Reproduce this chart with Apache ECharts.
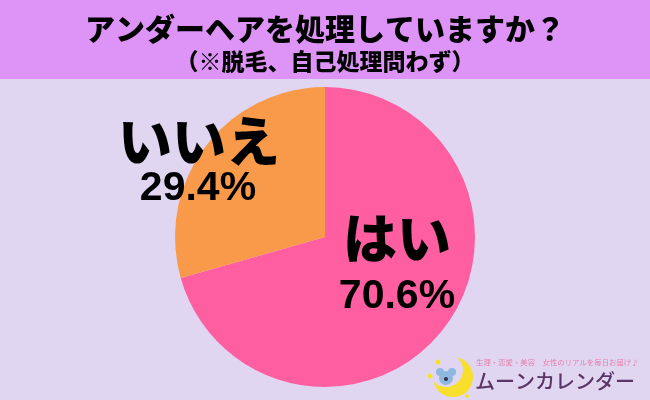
<!DOCTYPE html>
<html>
<head>
<meta charset="utf-8">
<script src="https://cdn.jsdelivr.net/npm/echarts@6/dist/echarts.min.js"></script>
<style>
html,body{margin:0;padding:0;background:#e1d6f1;}
#c{width:650px;height:400px;}
</style>
</head>
<body>
<div id="c"></div>
<script>
var titleText = 'アンダーヘアを処理していますか？';
var subtitleText = '（※脱毛、自己処理問わず）';
var categories = ['はい', 'いいえ'];
var values = [70.6, 29.4];
var colors = ['#ff5ea0', '#f99a4a'];
var brandTagline = '生理・恋愛・美容　女性のリアルを毎日お届け♪';
var brandName = 'ムーンカレンダー';

var chart = echarts.init(document.getElementById('c'), null, {renderer: 'canvas'});
var jp = '"Noto Sans CJK JP", "Noto Sans", sans-serif';
var num = '"Liberation Sans", Arial, sans-serif';

var labelPos = [
  {name: [397, 238], val: [397, 297]},
  {name: [199, 141], val: [198, 189]}
];
var labelGraphics = [];
categories.forEach(function (c, i) {
  labelGraphics.push({
    type: 'text', x: labelPos[i].name[0], y: labelPos[i].name[1], z: 10,
    style: {text: c, font: '900 54px ' + jp, fill: '#000', align: 'center', verticalAlign: 'middle'}
  });
  labelGraphics.push({
    type: 'text', x: labelPos[i].val[0], y: labelPos[i].val[1], z: 10,
    style: {text: values[i].toFixed(1) + '%', font: 'bold 41px ' + num, fill: '#000', align: 'center', verticalAlign: 'middle'}
  });
});

chart.setOption({
  backgroundColor: '#e1d6f1',
  animation: false,
  graphic: [
    {type: 'rect', shape: {x: 0, y: 0, width: 650, height: 79}, style: {fill: '#de94f7'}, z: 0},
    {type: 'text', x: 325, y: 29, style: {text: titleText, font: '900 30px ' + jp, fill: '#000', align: 'center', verticalAlign: 'middle'}},
    {type: 'text', x: 325, y: 61, style: {text: subtitleText, font: '900 23px ' + jp, fill: '#000', align: 'center', verticalAlign: 'middle'}},
    // moon logo
    {type: 'circle', shape: {cx: 453, cy: 377, r: 20}, style: {fill: '#f7df2c'}, z: 5},
    {type: 'circle', shape: {cx: 446, cy: 370, r: 17}, style: {fill: '#e1d6f1'}, z: 6},
    {type: 'circle', shape: {cx: 446, cy: 378, r: 7}, style: {fill: '#8fb8e0'}, z: 7},
    {type: 'circle', shape: {cx: 440, cy: 372, r: 4}, style: {fill: '#8fb8e0'}, z: 7},
    {type: 'circle', shape: {cx: 452, cy: 372, r: 4}, style: {fill: '#8fb8e0'}, z: 7},
    {type: 'circle', shape: {cx: 446, cy: 379, r: 2}, style: {fill: '#334'}, z: 8},
    {type: 'circle', shape: {cx: 438, cy: 362, r: 2.5}, style: {fill: '#f7df2c'}, z: 7},
    {type: 'circle', shape: {cx: 430, cy: 376, r: 2.5}, style: {fill: '#f7df2c'}, z: 7},
    {type: 'circle', shape: {cx: 467, cy: 396, r: 2}, style: {fill: '#f7df2c'}, z: 7},
    {type: 'text', x: 476, y: 362, style: {text: brandTagline, font: '7.4px ' + jp, fill: '#e77fae', align: 'left', verticalAlign: 'middle'}, z: 7},
    {type: 'text', x: 475, y: 381, style: {text: brandName, font: '500 20px ' + jp, fill: '#5b3566', align: 'left', verticalAlign: 'middle'}, z: 7}
  ].concat(labelGraphics),
  series: [{
    type: 'pie',
    center: [325, 237],
    radius: [0, 150],
    startAngle: 90,
    clockwise: true,
    label: {show: false},
    labelLine: {show: false},
    itemStyle: {borderWidth: 0},
    emphasis: {disabled: true},
    data: categories.map(function (c, i) {
      return {name: c, value: values[i], itemStyle: {color: colors[i]}};
    })
  }]
});
</script>
</body>
</html>
